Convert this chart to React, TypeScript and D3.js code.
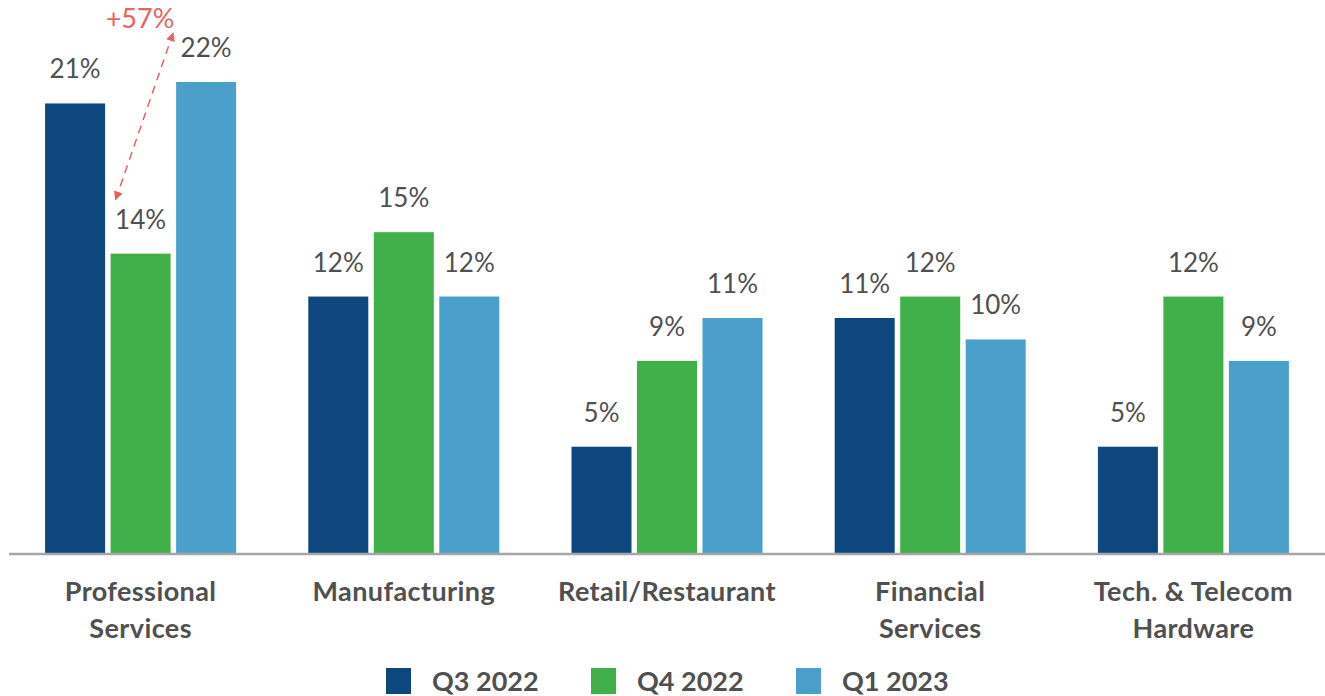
import React from "react";
import * as d3 from "d3";

const categories: string[][] = [
  ["Professional", "Services"],
  ["Manufacturing"],
  ["Retail/Restaurant"],
  ["Financial", "Services"],
  ["Tech. & Telecom", "Hardware"],
];
const seriesNames = ["Q3 2022", "Q4 2022", "Q1 2023"];
const q3_2022 = [21, 12, 5, 11, 5];
const q4_2022 = [14, 15, 9, 12, 12];
const q1_2023 = [22, 12, 11, 10, 9];
const colors = ["#0E477E", "#42B04A", "#4AA0CA"];
const annotation = "+57%";

const W = 1325;
const H = 696;

export default function App() {
  const series = [q3_2022, q4_2022, q1_2023];
  const x = d3
    .scaleBand<number>()
    .domain(d3.range(categories.length))
    .range([9, 1325])
    .padding(0);
  const baseY = 554;
  const y = d3.scaleLinear().domain([0, 22]).range([baseY, 82]);
  const barW = 60;
  const step = 65.5;
  const barX = (ci: number, si: number) =>
    (x(ci) as number) + x.bandwidth() / 2 + (si - 1) * step - barW / 2;
  const font = "Lato, 'Open Sans', sans-serif";
  const textColor = "#505050";

  // annotation arrow between Q4 and Q1 of first category
  const q4c = barX(0, 1) + barW / 2;
  const q1c = barX(0, 2) + barW / 2;
  const ax1 = q4c - 25;
  const ay1 = y(q4_2022[0]) - 54;
  const ax2 = q1c - 33;
  const ay2 = y(q1_2023[0]) - 49;

  return (
    <svg width={W} height={H} style={{ position: "absolute", left: 0, top: 0 }}>
      <defs>
        <marker id="ah" viewBox="0 0 10 10" refX="9" refY="5" markerWidth="9" markerHeight="9" orient="auto-start-reverse" markerUnits="userSpaceOnUse">
          <path d="M0,0 L10,5 L0,10 z" fill="#E8645A" />
        </marker>
      </defs>
      <rect width={W} height={H} fill="#fff" />
      {series.map((vals, si) =>
        vals.map((v, ci) => (
          <g key={`${si}-${ci}`}>
            <rect
              x={barX(ci, si)}
              y={y(v)}
              width={barW}
              height={baseY - y(v)}
              fill={colors[si]}
            />
            <text
              x={barX(ci, si) + barW / 2}
              y={y(v) - 25}
              textAnchor="middle"
              fontFamily={font}
              fontSize={26}
              fill={textColor}
            >
              {v}%
            </text>
          </g>
        ))
      )}
      <line x1={9} x2={1325} y1={baseY} y2={baseY} stroke="#A6A6A6" strokeWidth={2.5} />
      {categories.map((lines, ci) => (
        <text
          key={ci}
          x={(x(ci) as number) + x.bandwidth() / 2}
          textAnchor="middle"
          fontFamily={font}
          fontWeight="bold"
          fontSize={27}
          letterSpacing={0.4}
          fill={textColor}
        >
          {lines.map((l, li) => (
            <tspan key={li} x={(x(ci) as number) + x.bandwidth() / 2} y={601 + li * 37}>
              {l}
            </tspan>
          ))}
        </text>
      ))}
      <line
        x1={ax2}
        y1={ay2}
        x2={ax1}
        y2={ay1}
        stroke="#E8645A"
        strokeWidth={1.5}
        strokeDasharray="8,6"
        markerStart="url(#ah)"
        markerEnd="url(#ah)"
      />
      <text x={140} y={28} textAnchor="middle" fontFamily={font} fontSize={27} fill="#E8645A">
        {annotation}
      </text>
      {seriesNames.map((name, si) => (
        <g key={name} transform={`translate(${386 + si * 205},668)`}>
          <rect width={25} height={26} fill={colors[si]} />
          <text x={46} y={23} fontFamily={font} fontWeight="bold" fontSize={27} fill={textColor}>
            {name}
          </text>
        </g>
      ))}
    </svg>
  );
}
